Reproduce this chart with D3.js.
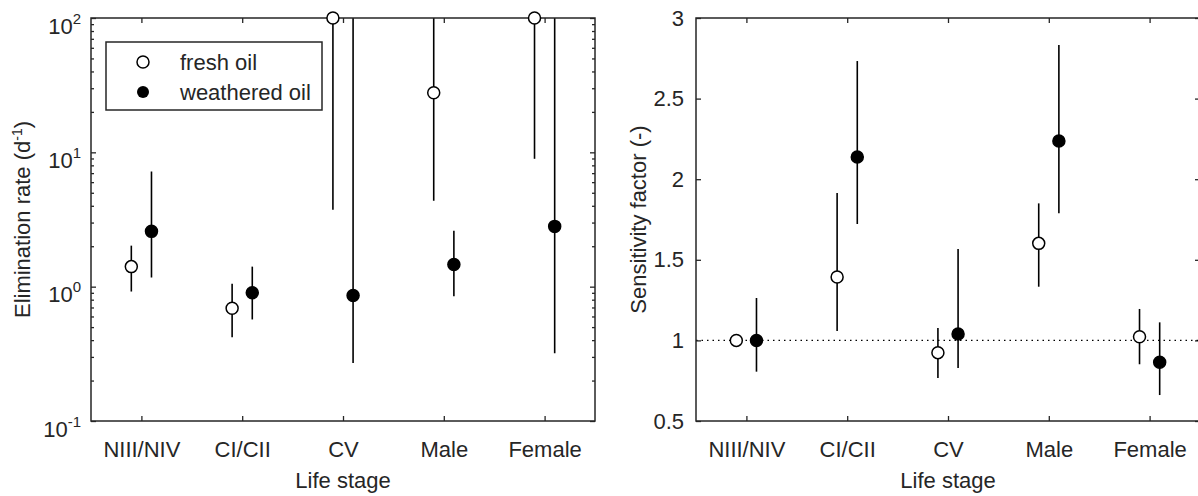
<!DOCTYPE html>
<html lang="en">
<head>
<meta charset="UTF-8">
<title>Elimination rate and sensitivity factor per life stage</title>
<script src="https://d3js.org/d3.v7.min.js"></script>
<style>
    body { margin: 0; background: #fff; }
    text { font-family: "Liberation Sans", Arial, sans-serif; fill: #262626; }
    .axis text { font-family: "Liberation Sans", Arial, sans-serif; font-size: 22px; fill: #262626; }
    .frame { fill: none; stroke: #262626; stroke-width: 1.5px; }
    .bar { stroke: #000; stroke-width: 1.6px; }
    .axis line { stroke: #262626; stroke-width: 1.3px; }
</style>
</head>
<body>
<svg width="1198" height="496"></svg>
<script>
// life stages on the x axis
const stages = ["NIII/NIV", "CI/CII", "CV", "Male", "Female"];

// elimination rate (d-1), log axis
const elimFresh   = [1.41, 0.69, 100, 27.8, 100];
const elimFreshLo = [0.92, 0.42, 3.74, 4.36, 8.95];
const elimFreshHi = [2.02, 1.05, 100, 100, 100];
const elimWeath   = [2.58, 0.90, 0.86, 1.46, 2.81];
const elimWeathLo = [1.17, 0.57, 0.27, 0.85, 0.32];
const elimWeathHi = [7.2, 1.41, 100, 2.61, 100];

// sensitivity factor (-)
const sensFresh   = [1.0, 1.393, 0.924, 1.602, 1.023];
const sensFreshLo = [1.0, 1.058, 0.767, 1.333, 0.852];
const sensFreshHi = [1.0, 1.914, 1.077, 1.850, 1.195];
const sensWeath   = [1.0, 2.138, 1.040, 2.237, 0.864];
const sensWeathLo = [0.806, 1.722, 0.829, 1.788, 0.661];
const sensWeathHi = [1.263, 2.733, 1.567, 2.832, 1.112];

const logMajor = [0.1, 1, 10, 100];
const logExp = ["-1", "0", "1", "2"];
const linTicks = [0.5, 1, 1.5, 2, 2.5, 3];

const svg = d3.select("svg");
const FS = 22;

function panel(box, y, fresh, freshLo, freshHi, weath, weathLo, weathHi, id) {
    const x = d3.scaleLinear().domain([0.5, 5.5]).range([box.x0, box.x1]);
    const g = svg.append("g");

    g.append("clipPath").attr("id", id)
        .append("rect")
        .attr("x", box.x0).attr("y", box.y0)
        .attr("width", box.x1 - box.x0).attr("height", box.y1 - box.y0);

    // bottom + top category ticks
    const xb = g.append("g").attr("class", "axis")
        .attr("transform", `translate(0,${box.y1})`)
        .call(d3.axisBottom(x).tickValues([1, 2, 3, 4, 5]).tickSize(-5).tickPadding(20)
            .tickFormat((d, i) => stages[i]));
    xb.select(".domain").remove();
    const xt = g.append("g").attr("class", "axis")
        .attr("transform", `translate(0,${box.y0})`)
        .call(d3.axisTop(x).tickValues([1, 2, 3, 4, 5]).tickSize(-5).tickFormat(""));
    xt.select(".domain").remove();

    const dx = 0.1;
    const idx = d3.range(stages.length);
    const clip = g.append("g").attr("clip-path", `url(#${id})`);

    clip.selectAll(".fb").data(idx).join("line").attr("class", "bar")
        .attr("x1", i => x(i + 1 - dx)).attr("x2", i => x(i + 1 - dx))
        .attr("y1", i => y(freshLo[i])).attr("y2", i => y(freshHi[i]));
    clip.selectAll(".wb").data(idx).join("line").attr("class", "bar")
        .attr("x1", i => x(i + 1 + dx)).attr("x2", i => x(i + 1 + dx))
        .attr("y1", i => y(weathLo[i])).attr("y2", i => y(weathHi[i]));

    g.append("rect").attr("class", "frame")
        .attr("x", box.x0).attr("y", box.y0)
        .attr("width", box.x1 - box.x0).attr("height", box.y1 - box.y0);

    g.selectAll(".fm").data(idx).join("circle")
        .attr("cx", i => x(i + 1 - dx)).attr("cy", i => y(fresh[i])).attr("r", 6)
        .attr("fill", "#fff").attr("stroke", "#000").attr("stroke-width", 1.5);
    g.selectAll(".wm").data(idx).join("circle")
        .attr("cx", i => x(i + 1 + dx)).attr("cy", i => y(weath[i])).attr("r", 6)
        .attr("fill", "#000").attr("stroke", "#000").attr("stroke-width", 1.5);

    return { g, x };
}

// ---- left panel: elimination rate ----
const L = { x0: 91, x1: 595, y0: 18, y1: 421 };
const yL = d3.scaleLog().domain([0.1, 100]).range([L.y1, L.y0]);

const minors = [];
[-1, 0, 1].forEach(e => { for (let m = 2; m <= 9; m++) minors.push(m * Math.pow(10, e)); });

svg.append("g").attr("class", "axis").attr("transform", `translate(${L.x0},0)`)
    .call(d3.axisLeft(yL).tickValues(minors).tickSize(-3).tickFormat(""))
    .select(".domain").remove();
svg.append("g").attr("class", "axis").attr("transform", `translate(${L.x1},0)`)
    .call(d3.axisRight(yL).tickValues(minors).tickSize(-3).tickFormat(""))
    .select(".domain").remove();
svg.append("g").attr("class", "axis").attr("transform", `translate(${L.x1},0)`)
    .call(d3.axisRight(yL).tickValues(logMajor).tickSize(-5).tickFormat(""))
    .select(".domain").remove();
const yAxL = svg.append("g").attr("class", "axis").attr("transform", `translate(${L.x0},0)`)
    .call(d3.axisLeft(yL).tickValues(logMajor).tickSize(-5).tickFormat(""));
yAxL.select(".domain").remove();
yAxL.selectAll(".tick text").each(function (d, i) {
    const t = d3.select(this).attr("x", -10).attr("dy", 15).attr("text-anchor", "end");
    t.append("tspan").text("10");
    t.append("tspan").attr("font-size", 15).attr("dy", -10).text(logExp[i]);
});

panel(L, yL, elimFresh, elimFreshLo, elimFreshHi, elimWeath, elimWeathLo, elimWeathHi, "clipL");

// legend
const lg = svg.append("g");
lg.append("rect").attr("x", 106).attr("y", 42).attr("width", 216).attr("height", 68)
    .attr("fill", "#fff").attr("stroke", "#262626").attr("stroke-width", 1.5);
lg.append("circle").attr("cx", 143).attr("cy", 62).attr("r", 6)
    .attr("fill", "#fff").attr("stroke", "#000").attr("stroke-width", 1.5);
lg.append("circle").attr("cx", 143).attr("cy", 92).attr("r", 6).attr("fill", "#000");
lg.append("text").attr("x", 180).attr("y", 70).attr("font-size", FS).text("fresh oil");
lg.append("text").attr("x", 180).attr("y", 100).attr("font-size", FS).text("weathered oil");

// axis labels left
svg.append("text").attr("x", (L.x0 + L.x1) / 2).attr("y", 488)
    .attr("text-anchor", "middle").attr("font-size", FS).text("Life stage");
const ylab = svg.append("text").attr("transform", `translate(30,${(L.y0 + L.y1) / 2}) rotate(-90)`)
    .attr("text-anchor", "middle").attr("font-size", FS);
ylab.append("tspan").text("Elimination rate (d");
ylab.append("tspan").attr("font-size", 14).attr("dy", -8).text("-1");
ylab.append("tspan").attr("dy", 8).text(")");

// ---- right panel: sensitivity factor ----
const R = { x0: 696, x1: 1200, y0: 18, y1: 421 };
const yR = d3.scaleLinear().domain([0.5, 3]).range([R.y1, R.y0]);

const yAxR = svg.append("g").attr("class", "axis").attr("transform", `translate(${R.x0},0)`)
    .call(d3.axisLeft(yR).tickValues(linTicks).tickSize(-5).tickPadding(12)
        .tickFormat(d3.format("")));
yAxR.select(".domain").remove();
svg.append("g").attr("class", "axis").attr("transform", `translate(${R.x1},0)`)
    .call(d3.axisRight(yR).tickValues(linTicks).tickSize(-5).tickFormat(""))
    .select(".domain").remove();

// reference line at 1
svg.append("line")
    .attr("x1", R.x0).attr("x2", R.x1).attr("y1", yR(1)).attr("y2", yR(1))
    .attr("stroke", "#000").attr("stroke-width", 1.2).attr("stroke-dasharray", "1.5,4");

panel(R, yR, sensFresh, sensFreshLo, sensFreshHi, sensWeath, sensWeathLo, sensWeathHi, "clipR");

svg.append("text").attr("x", (R.x0 + R.x1) / 2).attr("y", 488)
    .attr("text-anchor", "middle").attr("font-size", FS).text("Life stage");
svg.append("text").attr("transform", `translate(646,${(R.y0 + R.y1) / 2}) rotate(-90)`)
    .attr("text-anchor", "middle").attr("font-size", FS).text("Sensitivity factor (-)");
</script>
</body>
</html>
